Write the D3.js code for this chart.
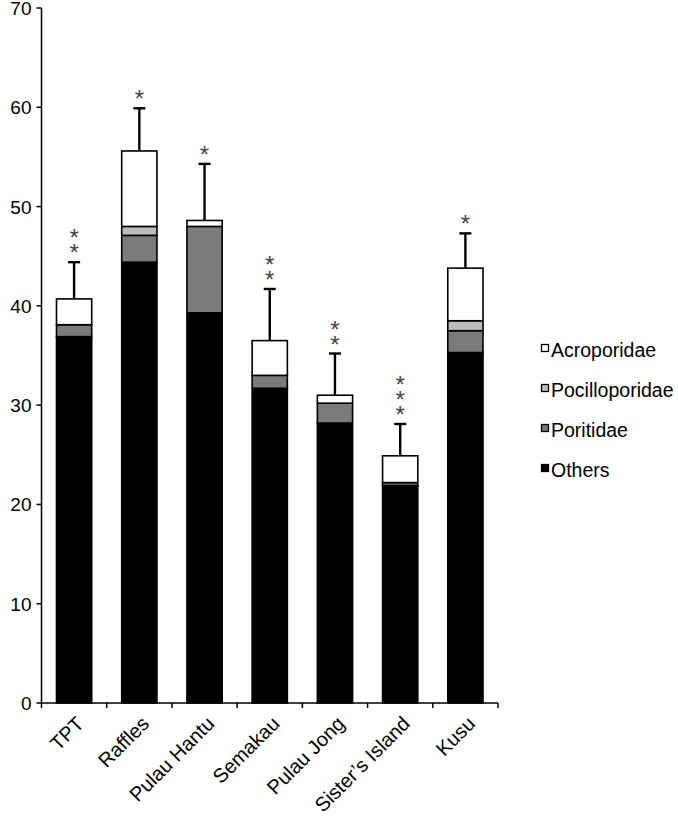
<!DOCTYPE html>
<html><head><meta charset="utf-8">
<script src="https://cdn.jsdelivr.net/npm/d3@7"></script>
<style>body{margin:0;background:#fff}svg{display:block;font-family:Arial,"Liberation Sans",sans-serif}</style>
</head><body>
<svg id="c" width="678" height="818"></svg>
<script>
const categories = ["TPT","Raffles","Pulau Hantu","Semakau","Pulau Jong","Sister\u2019s Island","Kusu"];
const others      = [36.9, 44.4, 39.3, 31.7, 28.2, 21.9, 35.3];
const poritidae   = [1.2, 2.7, 8.7, 1.3, 2.0, 0.3, 2.2];
const pocillo     = [0, 0.9, 0, 0, 0, 0, 1.0];
const acropora    = [2.6, 7.6, 0.6, 3.5, 0.8, 2.7, 5.3];
const errors      = [3.7, 4.3, 5.7, 5.2, 4.2, 3.2, 3.5];
const stars       = [2, 1, 1, 2, 2, 3, 1];
const seriesNames = ["Others","Poritidae","Pocilloporidae","Acroporidae"];
const seriesColors = ["#000000","#7a7a7a","#bdbdbd","#ffffff"];
const yTicks = [0,10,20,30,40,50,60,70];

const svg = d3.select("#c");
const x0 = 41.5, x1 = 498, yTop = 8, yBot = 703;
const x = d3.scaleBand().domain(categories).range([x0, x1]).paddingInner(0.46).paddingOuter(0.23);
const y = d3.scaleLinear().domain([0,70]).range([yBot, yTop]);

const rows = categories.map((c,i)=>({cat:c, Others:others[i], Poritidae:poritidae[i], Pocilloporidae:pocillo[i], Acroporidae:acropora[i]}));
const stacked = d3.stack().keys(seriesNames)(rows);

// bars
stacked.forEach((s,si)=>{
  svg.append("g").selectAll("rect").data(s.filter(d=>d[1]-d[0]>0)).join("rect")
    .attr("x", d=>x(d.data.cat)).attr("width", x.bandwidth())
    .attr("y", d=>y(d[1])).attr("height", d=>y(d[0])-y(d[1]))
    .attr("fill", seriesColors[si]).attr("stroke","#000").attr("stroke-width",1.6);
});

// error bars + significance stars
const totals = categories.map((c,i)=>others[i]+poritidae[i]+pocillo[i]+acropora[i]);
const eg = svg.append("g").attr("stroke","#000").attr("stroke-width",2.4);
categories.forEach((c,i)=>{
  const cx = x(c)+x.bandwidth()/2;
  const t = totals[i], e = t+errors[i];
  eg.append("line").attr("x1",cx).attr("x2",cx).attr("y1",y(t)).attr("y2",y(e));
  eg.append("line").attr("x1",cx-6).attr("x2",cx+6).attr("y1",y(e)).attr("y2",y(e));
  const n = stars[i];
  const st = svg.append("text").attr("text-anchor","middle").attr("font-size",24).attr("fill","#444");
  for(let k=n-1;k>=0;k--){
    st.append("tspan").attr("x",cx).attr("y",y(e)-1-k*15).text("*");
  }
});

// y axis
const ya = svg.append("g");
ya.append("line").attr("x1",x0).attr("x2",x0).attr("y1",yTop).attr("y2",yBot).attr("stroke","#000").attr("stroke-width",1.5);
yTicks.forEach(t=>{
  ya.append("line").attr("x1",x0-5).attr("x2",x0).attr("y1",y(t)).attr("y2",y(t)).attr("stroke","#000").attr("stroke-width",1.5);
  ya.append("text").attr("x",x0-10).attr("y",y(t)+7).attr("text-anchor","end").attr("font-size",19).attr("fill","#000").text(t);
});

// x axis
const xa = svg.append("g");
xa.append("line").attr("x1",x0).attr("x2",x1).attr("y1",yBot).attr("y2",yBot).attr("stroke","#000").attr("stroke-width",1.5);
const bounds = d3.range(categories.length+1).map(k=>x0 + k*(x1-x0)/categories.length);
bounds.forEach(b=>xa.append("line").attr("x1",b).attr("x2",b).attr("y1",yBot).attr("y2",yBot+5).attr("stroke","#000").attr("stroke-width",1.5));
categories.forEach(c=>{
  const cx = x(c)+x.bandwidth()/2 + 11;
  xa.append("text").attr("transform",`translate(${cx},${yBot+22}) rotate(-45)`)
    .attr("text-anchor","end").attr("font-size",20).attr("fill","#000").text(c);
});

// legend
const legendItems = [3,2,1,0];
const lg = svg.append("g");
legendItems.forEach((si,k)=>{
  const ly = 350 + k*40;
  lg.append("rect").attr("x",541.5).attr("y",ly-5.5).attr("width",7).attr("height",7)
    .attr("fill",seriesColors[si]).attr("stroke","#000").attr("stroke-width",1.3);
  lg.append("text").attr("x",551).attr("y",ly+7).attr("font-size",19.5).attr("fill","#000").text(seriesNames[si]);
});
</script>
</body></html>
